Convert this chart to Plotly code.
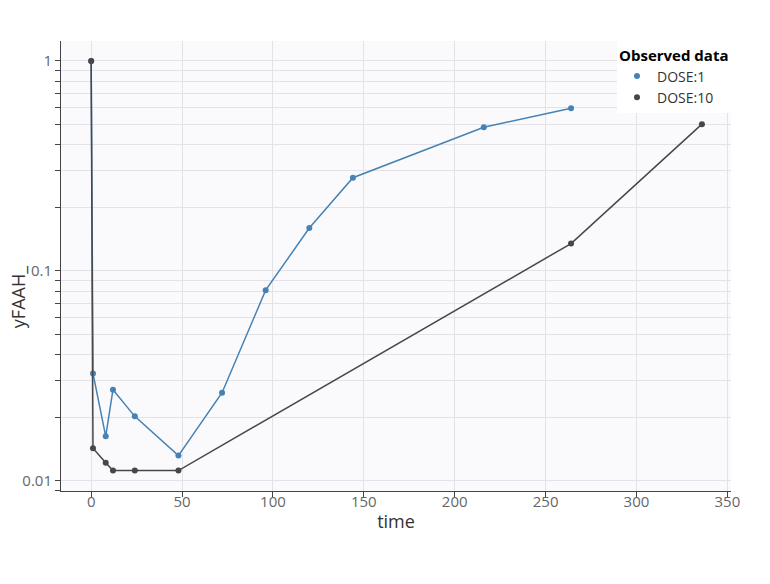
import plotly.graph_objects as go

time_d1 = [0, 1, 8, 12, 24, 48, 72, 96, 120, 144, 216, 264]
y_d1 = [1.0, 0.0325, 0.0163, 0.0272, 0.0203, 0.0132, 0.0263, 0.081, 0.160, 0.278, 0.483, 0.595]
time_d10 = [0, 1, 8, 12, 24, 48, 264, 336]
y_d10 = [1.0, 0.0143, 0.0122, 0.0112, 0.0112, 0.0112, 0.135, 0.50]

c1 = "#4682B4"
c10 = "#474747"

fig = go.Figure()
fig.add_trace(go.Scatter(x=time_d1, y=y_d1, mode="lines", showlegend=False,
                         line=dict(color=c1, width=1.5), hoverinfo="skip"))
fig.add_trace(go.Scatter(x=time_d1, y=y_d1, mode="markers", name="DOSE:1",
                         marker=dict(color=c1, size=6)))
fig.add_trace(go.Scatter(x=time_d10, y=y_d10, mode="lines", showlegend=False,
                         line=dict(color=c10, width=1.5), hoverinfo="skip"))
fig.add_trace(go.Scatter(x=time_d10, y=y_d10, mode="markers", name="DOSE:10",
                         marker=dict(color=c10, size=6)))

grid = "#e2e2e8"
fig.update_layout(
    width=770, height=584,
    margin=dict(l=53, r=47, t=33, b=101),
    paper_bgcolor="white", plot_bgcolor="#fafafd",
    font=dict(family="Open Sans", color="#444"),
    legend=dict(title=dict(text="<b>Observed data</b>", font=dict(size=15, color="black")),
                x=1, xanchor="right", y=1, yanchor="top",
                bgcolor="white", font=dict(size=14, color="#333")),
    xaxis=dict(title=dict(text="time", font=dict(size=18, color="#333"), standoff=5),
               range=[-16.6, 352], automargin=False,
               tick0=0, dtick=50, showline=True, linecolor="#444", linewidth=1,
               ticks="outside", ticklen=5, tickcolor="#444", gridcolor=grid,
               ticklabelstandoff=-8,
               tickfont=dict(size=15, color="#666"), zeroline=False),
    yaxis=dict(type="log", automargin=False,
               range=[-2.048, 0.095], tickvals=[0.01, 0.1, 1], ticktext=["0.01", "0.1", "1"],
               showline=True, linecolor="#444", linewidth=1,
               ticks="outside", ticklen=5, tickcolor="#444", gridcolor=grid,
               tickfont=dict(size=15, color="#666"), zeroline=False,
               minor=dict(tickvals=[k * 10 ** e for e in (-3, -2, -1, 0) for k in range(2, 10)],
                          ticks="outside", ticklen=5, tickcolor="#444",
                          showgrid=True, gridcolor=grid)),
    annotations=[dict(text="yFAAH_", xref="paper", yref="paper", x=-0.064, y=0.431,
                      xanchor="center", yanchor="middle", textangle=-90, showarrow=False,
                      font=dict(size=18, color="#333"))],
)
fig.write_html("out.html")
